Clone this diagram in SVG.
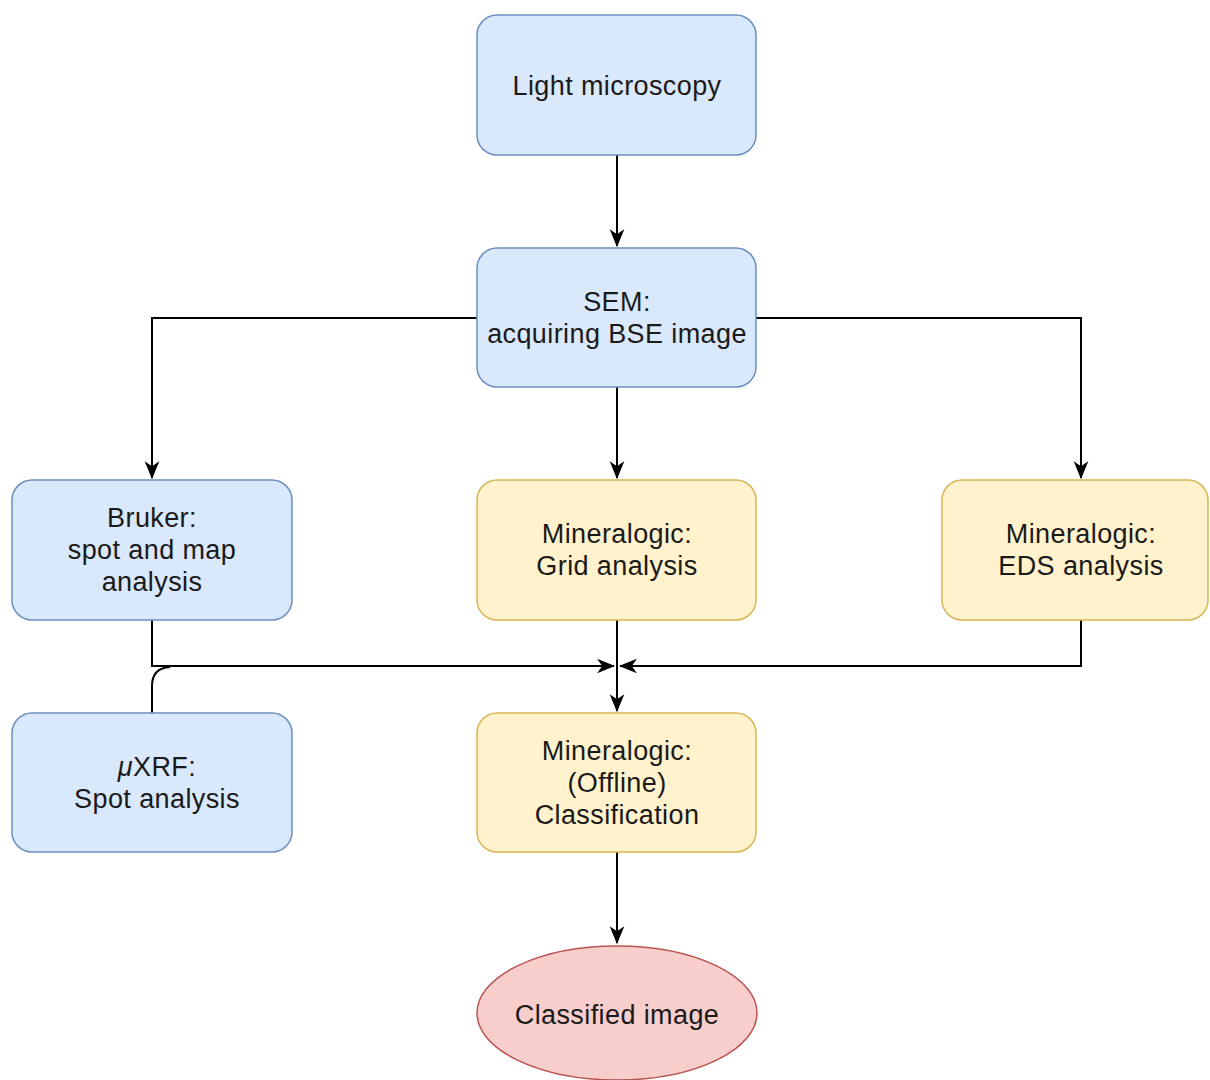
<svg xmlns="http://www.w3.org/2000/svg" width="1210" height="1080" viewBox="0 0 1210 1080">
<style>
.blue{fill:#dae8fc;stroke:#6c8ebf;stroke-width:1.5}
.yel{fill:#fff2cc;stroke:#d6b656;stroke-width:1.5}
.red{fill:#f8cecc;stroke:#b85450;stroke-width:1.5}
text{font-family:"Liberation Sans",Arial,sans-serif;font-size:27px;letter-spacing:0.4px;fill:#1a1a1a;text-anchor:middle}
.c{fill:none;stroke:#000;stroke-width:2}
</style>
<defs>
<marker id="a" viewBox="0 0 16 16" refX="15" refY="8" markerWidth="18" markerHeight="18" markerUnits="userSpaceOnUse" orient="auto">
<path d="M0,1.5 L16,8 L0,14.5 L4.5,8 Z" fill="#000"/>
</marker>
</defs>
<rect width="1210" height="1080" fill="#fff"/>
<g id="connectors">
<path class="c" d="M617,155 V246" marker-end="url(#a)"/>
<path class="c" d="M477,318 H152 V478" marker-end="url(#a)"/>
<path class="c" d="M756,318 H1081 V478" marker-end="url(#a)"/>
<path class="c" d="M617,387 V478" marker-end="url(#a)"/>
<path class="c" d="M152,620 V666 H614" marker-end="url(#a)"/>
<path class="c" d="M1081,620 V666 H620" marker-end="url(#a)"/>
<path class="c" d="M617,620 V711" marker-end="url(#a)"/>
<path class="c" d="M152,713 V686 Q152,668 170,667"/>
<path class="c" d="M617,852 V943" marker-end="url(#a)"/>
</g>
<g id="light">
<rect class="blue" x="477" y="15" width="279" height="140" rx="20"/>
<text x="617" y="95">Light microscopy</text>
</g>
<g id="sem">
<rect class="blue" x="477" y="248" width="279" height="139" rx="20"/>
<text x="617" y="311">SEM:</text>
<text x="617" y="343">acquiring BSE image</text>
</g>
<g id="bruker">
<rect class="blue" x="12" y="480" width="280" height="140" rx="20"/>
<text x="152" y="527">Bruker:</text>
<text x="152" y="559">spot and map</text>
<text x="152" y="591">analysis</text>
</g>
<g id="grid">
<rect class="yel" x="477" y="480" width="279" height="140" rx="20"/>
<text x="617" y="543">Mineralogic:</text>
<text x="617" y="575">Grid analysis</text>
</g>
<g id="eds">
<rect class="yel" x="942" y="480" width="266" height="140" rx="20"/>
<text x="1081" y="543">Mineralogic:</text>
<text x="1081" y="575">EDS analysis</text>
</g>
<g id="uxrf">
<rect class="blue" x="12" y="713" width="280" height="139" rx="20"/>
<text x="157" y="776"><tspan font-style="italic">μ</tspan>XRF:</text>
<text x="157" y="808">Spot analysis</text>
</g>
<g id="classification">
<rect class="yel" x="477" y="713" width="279" height="139" rx="20"/>
<text x="617" y="760">Mineralogic:</text>
<text x="617" y="792">(Offline)</text>
<text x="617" y="824">Classification</text>
</g>
<g id="classified">
<ellipse class="red" cx="617" cy="1013" rx="140" ry="67"/>
<text x="617" y="1024">Classified image</text>
</g>
</svg>
